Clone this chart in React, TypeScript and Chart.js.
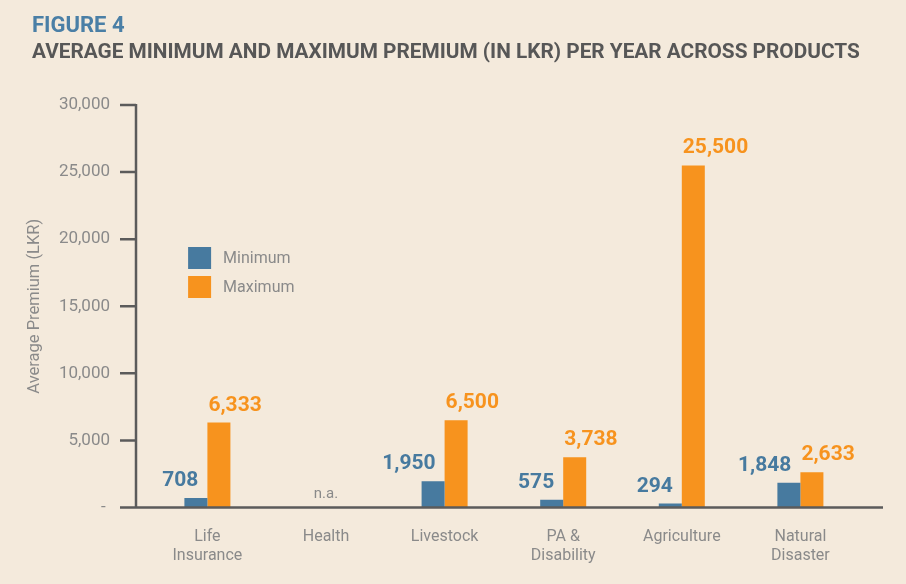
import React, { useEffect, useRef } from 'react';
import { Chart, registerables } from 'chart.js';

Chart.register(...registerables);

const categories: (string | string[])[] = [
  ['Life', 'Insurance'],
  'Health',
  'Livestock',
  ['PA &', 'Disability'],
  'Agriculture',
  ['Natural', 'Disaster'],
];
const minimumValues: (number | null)[] = [708, null, 1950, 575, 294, 1848];
const maximumValues: (number | null)[] = [6333, null, 6500, 3738, 25500, 2633];
const seriesNames = ['Minimum', 'Maximum'];
const figureLabel = 'FIGURE 4';
const chartTitle = 'AVERAGE MINIMUM AND MAXIMUM PREMIUM (IN LKR) PER YEAR ACROSS PRODUCTS';
const yAxisTitle = 'Average Premium (LKR)';
const notAvailableLabel = 'n.a.';
const yMax = 30000;
const yStep = 5000;

const BG = '#f4eadc';
const BLUE = '#477a9f';
const ORANGE = '#f7931e';
const AXIS = '#5b5b5b';
const GREY_TEXT = '#8a8a8a';
const FONT = 'Roboto, "Noto Sans", sans-serif';

const fmt = (v: number) => v.toLocaleString('en-US');

const AXIS_GAP = 12.1;

const axisLinesPlugin = {
  id: 'axisLines',
  afterDatasetsDraw(chart: any) {
    const { ctx, chartArea, scales } = chart;
    const y = scales.y;
    const axisX = chartArea.left - AXIS_GAP;
    const y0 = y.getPixelForValue(0);
    const yTop = y.getPixelForValue(yMax);
    ctx.save();
    ctx.strokeStyle = AXIS;
    ctx.lineWidth = 2.5;
    ctx.beginPath();
    ctx.moveTo(axisX, yTop - 1);
    ctx.lineTo(axisX, y0);
    y.ticks.forEach((t: any) => {
      const py = y.getPixelForValue(t.value);
      ctx.moveTo(axisX - 16, py);
      ctx.lineTo(axisX, py);
    });
    ctx.moveTo(axisX - 16, y0);
    ctx.lineTo(chartArea.right + 23.3, y0);
    ctx.stroke();
    ctx.restore();
  },
};

const valueLabelsPlugin = {
  id: 'valueLabels',
  afterDatasetsDraw(chart: any) {
    const { ctx, scales } = chart;
    const x = scales.x;
    const y = scales.y;
    ctx.save();
    ctx.font = `bold 21px ${FONT}`;
    ctx.textBaseline = 'alphabetic';
    chart.data.datasets.forEach((ds: any, di: number) => {
      const meta = chart.getDatasetMeta(di);
      meta.data.forEach((bar: any, i: number) => {
        const v = ds.data[i];
        if (v === null || v === undefined) return;
        const props = bar.getProps(['x', 'y', 'width'], true);
        ctx.fillStyle = ds.backgroundColor;
        if (di === 0) {
          ctx.textAlign = 'right';
          ctx.fillText(fmt(v), props.x + props.width / 2 - 9, props.y - 12);
        } else {
          ctx.textAlign = 'left';
          ctx.fillText(fmt(v), props.x - props.width / 2 + 1, props.y - 12);
        }
      });
    });
    ctx.font = `15px ${FONT}`;
    ctx.fillStyle = GREY_TEXT;
    ctx.textAlign = 'center';
    const y0 = y.getPixelForValue(0);
    categories.forEach((_, i) => {
      const allMissing = chart.data.datasets.every((ds: any) => ds.data[i] === null);
      if (allMissing) {
        ctx.fillText(notAvailableLabel, x.getPixelForValue(i), y0 - 10);
      }
    });
    ctx.restore();
  },
};

const innerLegendPlugin = {
  id: 'innerLegend',
  afterDraw(chart: any) {
    const { ctx, chartArea } = chart;
    const bx = chartArea.left + 40;
    const by = chartArea.top + 142;
    ctx.save();
    ctx.font = `16px ${FONT}`;
    ctx.textBaseline = 'middle';
    ctx.textAlign = 'left';
    chart.data.datasets.forEach((ds: any, i: number) => {
      const top = by + i * 29;
      ctx.fillStyle = ds.backgroundColor;
      ctx.fillRect(bx, top, 23, 22);
      ctx.fillStyle = GREY_TEXT;
      ctx.fillText(ds.label, bx + 35, top + 12);
    });
    ctx.restore();
  },
};

export default function App() {
  const canvasRef = useRef<HTMLCanvasElement | null>(null);

  useEffect(() => {
    document.body.style.margin = '0';
    document.body.style.background = BG;
    const canvas = canvasRef.current;
    if (!canvas) return;
    const chart = new Chart(canvas, {
      type: 'bar',
      data: {
        labels: categories as any,
        datasets: [
          {
            label: seriesNames[0],
            data: minimumValues,
            backgroundColor: BLUE,
            categoryPercentage: 0.388,
            barPercentage: 1,
          },
          {
            label: seriesNames[1],
            data: maximumValues,
            backgroundColor: ORANGE,
            categoryPercentage: 0.388,
            barPercentage: 1,
          },
        ],
      },
      options: {
        responsive: false,
        animation: false,
        devicePixelRatio: 1,
        layout: { padding: { left: 32, right: 46.3, top: 0, bottom: 0 } },
        plugins: {
          legend: { display: false },
          tooltip: { enabled: false },
          title: {
            display: true,
            text: figureLabel,
            align: 'start',
            color: '#4a7fa6',
            font: { family: FONT, size: 22, weight: 'bold' },
            padding: { top: 13.4, bottom: 0 },
          },
          subtitle: {
            display: true,
            text: chartTitle,
            align: 'start',
            color: '#575757',
            font: { family: FONT, size: 21, weight: 'bold' },
            padding: { top: 0.6, bottom: 39.4 },
          },
        },
        scales: {
          x: {
            type: 'category',
            grid: { display: false, drawTicks: false },
            border: { display: false },
            ticks: {
              color: GREY_TEXT,
              font: { family: FONT, size: 16, lineHeight: 1.2 },
              padding: 20,
              maxRotation: 0,
              autoSkip: false,
            },
            afterFit(scale: any) {
              scale.height = 76.5;
            },
          },
          y: {
            min: 0,
            max: yMax,
            grid: { display: false, drawTicks: false },
            border: { display: false },
            ticks: {
              stepSize: yStep,
              color: GREY_TEXT,
              font: { family: FONT, size: 17 },
              padding: 38.1,
              callback: (v: any) => (Number(v) === 0 ? '- ' : fmt(Number(v))),
            },
            title: {
              display: true,
              text: yAxisTitle,
              color: GREY_TEXT,
              font: { family: FONT, size: 16.5 },
              padding: { top: -7.5, bottom: 0 },
            },
            afterFit(scale: any) {
              scale.width = 116.1;
            },
          },
        },
      },
      plugins: [axisLinesPlugin, valueLabelsPlugin, innerLegendPlugin],
    } as any);
    return () => chart.destroy();
  }, []);

  return (
    <div style={{ width: 906, height: 584, background: BG }}>
      <canvas ref={canvasRef} width={906} height={584} style={{ display: 'block' }} />
    </div>
  );
}
